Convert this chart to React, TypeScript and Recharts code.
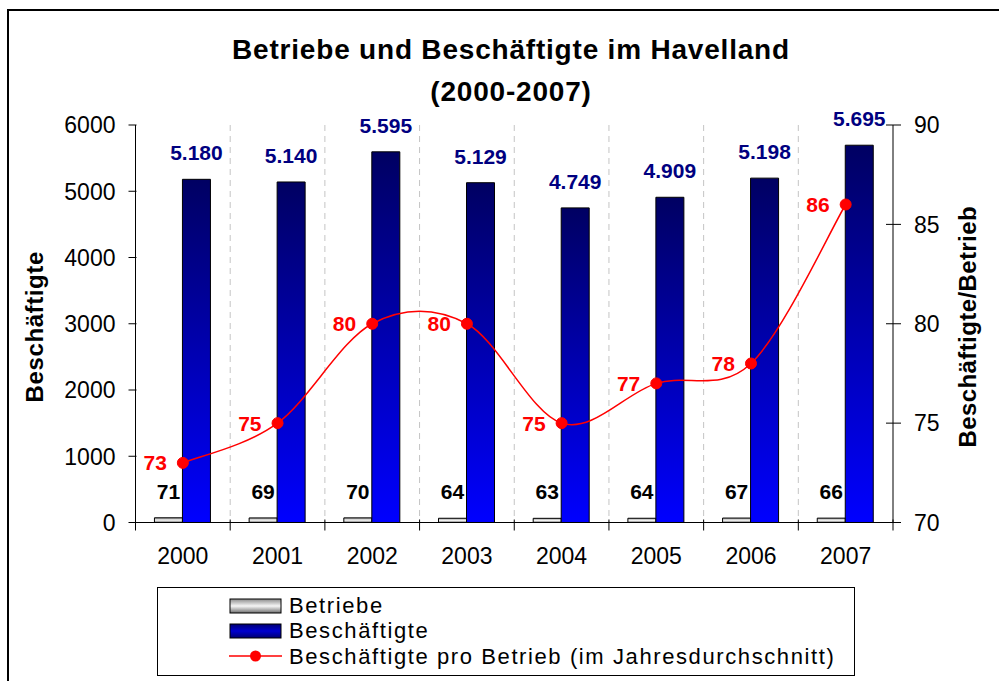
import React from 'react'
import { ComposedChart, Bar, Line, XAxis, YAxis, CartesianGrid, LabelList, Legend, Label } from 'recharts'

const YEARS = ['2000', '2001', '2002', '2003', '2004', '2005', '2006', '2007']
const BETRIEBE = [71, 69, 70, 64, 63, 64, 67, 66]
const BESCHAEFTIGTE = [5180, 5140, 5595, 5129, 4749, 4909, 5198, 5695]
const PRO_BETRIEB = [73, 75, 80, 80, 75, 77, 78, 86]
const LEFT_TICKS = [0, 1000, 2000, 3000, 4000, 5000, 6000]
const RIGHT_TICKS = [70, 75, 80, 85, 90]

const data = YEARS.map((year, i) => ({
  year,
  betriebe: BETRIEBE[i],
  beschaeftigte: BESCHAEFTIGTE[i],
  proBetrieb: PRO_BETRIEB[i],
}))

const FONT = '"Liberation Sans", Arial, sans-serif'

// German thousands separator (5.180)
const formatDe = (v: number) => String(v).replace(/\B(?=(\d{3})+(?!\d))/g, '.')

// Excel-like smoothed line (Catmull-Rom as cubic bezier)
function excelSmooth(context: any) {
  let pts: number[][] = []
  return {
    areaStart() {},
    areaEnd() {},
    lineStart() {
      pts = []
    },
    lineEnd() {
      if (!pts.length) return
      context.moveTo(pts[0][0], pts[0][1])
      for (let i = 0; i < pts.length - 1; i++) {
        const p0 = pts[i - 1] || pts[i]
        const p1 = pts[i]
        const p2 = pts[i + 1]
        const p3 = pts[i + 2] || p2
        context.bezierCurveTo(
          p1[0] + (p2[0] - p0[0]) / 6,
          p1[1] + (p2[1] - p0[1]) / 6,
          p2[0] - (p3[0] - p1[0]) / 6,
          p2[1] - (p3[1] - p1[1]) / 6,
          p2[0],
          p2[1]
        )
      }
    },
    point(x: number, y: number) {
      pts.push([+x, +y])
    },
  }
}

const LeftTick = (props: any) => {
  const { x, y, payload } = props
  const ax = x + 20
  return (
    <g>
      <line x1={ax - 7} x2={ax + 1} y1={y} y2={y} stroke="#000" />
      <text x={x} y={y} dy="0.36em" textAnchor="end" fontSize={23} fill="#000" fontFamily={FONT}>
        {payload.value}
      </text>
    </g>
  )
}

const RightTick = (props: any) => {
  const { x, y, payload } = props
  const ax = x - 21
  return (
    <g>
      <line x1={ax - 7} x2={ax + 8} y1={y} y2={y} stroke="#000" />
      <text x={x} y={y} dy="0.36em" textAnchor="start" fontSize={23} fill="#000" fontFamily={FONT}>
        {payload.value}
      </text>
    </g>
  )
}

const YearTick = (props: any) => {
  const { x, y, payload, index } = props
  const half = payload.offset || 47.3
  return (
    <g>
      <line x1={x - half} x2={x - half} y1={y - 3} y2={y + 8} stroke="#000" />
      {index === YEARS.length - 1 && <line x1={x + half} x2={x + half} y1={y - 3} y2={y + 8} stroke="#000" />}
      <text x={x} y={y + 41} textAnchor="middle" fontSize={23} fill="#000" fontFamily={FONT}>
        {payload.value}
      </text>
    </g>
  )
}

const axisTitle = (text: string, dx: number, ls: number) => (props: any) => {
  const { viewBox } = props
  const cx = viewBox.x + dx
  const cy = viewBox.y + viewBox.height / 2 + 3
  return (
    <text
      x={cx}
      y={cy}
      dy="0.36em"
      transform={`rotate(-90 ${cx} ${cy})`}
      textAnchor="middle"
      fontSize={24}
      fontWeight="bold"
      letterSpacing={ls}
      fontFamily={FONT}
      fill="#000"
    >
      {text}
    </text>
  )
}

const LegendBox = () => {
  const rows = [
    { key: 'b', label: 'Betriebe' },
    { key: 's', label: 'Beschäftigte' },
    { key: 'l', label: 'Beschäftigte pro Betrieb (im Jahresdurchschnitt)' },
  ]
  return (
    <div style={{ paddingTop: 5, paddingLeft: 71, fontFamily: FONT, fontSize: 22, letterSpacing: 1.6 }}>
      {rows.map((r) => (
        <div key={r.key} style={{ display: 'flex', alignItems: 'center', height: 25.4, lineHeight: '25.4px' }}>
          <svg width={54} height={24} style={{ marginRight: 6 }}>
            <defs>
              <linearGradient id="lgGray" x1="0" y1="0" x2="0" y2="1">
                <stop offset="0" stopColor="#8c8c8c" />
                <stop offset="0.5" stopColor="#f6f6f6" />
                <stop offset="1" stopColor="#6e6e6e" />
              </linearGradient>
              <linearGradient id="lgBlue" x1="0" y1="0" x2="0" y2="1">
                <stop offset="0" stopColor="#000070" />
                <stop offset="0.5" stopColor="#0000d0" />
                <stop offset="1" stopColor="#000070" />
              </linearGradient>
            </defs>
            {r.key === 'b' && <rect x={1} y={5} width={51} height={14} fill="url(#lgGray)" stroke="#000" />}
            {r.key === 's' && <rect x={1} y={5} width={51} height={14} fill="url(#lgBlue)" stroke="#000" />}
            {r.key === 'l' && (
              <g>
                <line x1={0} x2={53} y1={12} y2={12} stroke="#ff0000" strokeWidth={1.5} />
                <circle cx={26.5} cy={12} r={5.5} fill="#ff0000" />
              </g>
            )}
          </svg>
          <span>{r.label}</span>
        </div>
      ))}
    </div>
  )
}

export default function App() {
  return (
    <div style={{ position: 'fixed', left: 0, top: 0, width: 999, height: 681, overflow: 'hidden', background: '#fff', fontFamily: FONT }}>
      {/* outer frame */}
      <div style={{ position: 'absolute', left: 7, top: 9, width: 1100, height: 1000, border: '2px solid #000' }} />

      {/* title */}
      <div
        style={{
          position: 'absolute',
          left: 0,
          top: 29,
          width: 1022,
          textAlign: 'center',
          fontSize: 28,
          fontWeight: 'bold',
          letterSpacing: 0.8,
          lineHeight: '42px',
          color: '#000',
        }}
      >
        Betriebe und Beschäftigte im Havelland
        <br />
        (2000-2007)
      </div>

      <div style={{ position: 'absolute', left: 0, top: 0 }}>
        <ComposedChart
          width={999}
          height={681}
          data={data}
          margin={{ top: 125, right: 0, bottom: 98.5, left: 0 }}
          barCategoryGap="20%"
          barGap={0}
        >
          <defs>
            <linearGradient id="gradGray" x1="0" y1="0" x2="0" y2="1">
              <stop offset="0" stopColor="#8c8c8c" />
              <stop offset="0.5" stopColor="#f6f6f6" />
              <stop offset="1" stopColor="#6e6e6e" />
            </linearGradient>
            <linearGradient id="gradBlue" x1="0" y1="0" x2="0" y2="1">
              <stop offset="0" stopColor="#000062" />
              <stop offset="1" stopColor="#0000ff" />
            </linearGradient>
          </defs>

          <CartesianGrid
            horizontal={false}
            stroke="#c4c4c4"
            strokeDasharray="6 5"
            verticalCoordinatesGenerator={({ offset }: any) =>
              YEARS.slice(1).map((_, i) => offset.left + ((i + 1) * offset.width) / YEARS.length)
            }
          />

          <XAxis
            dataKey="year"
            height={60}
            tickSize={0}
            tickMargin={0}
            tickLine={false}
            axisLine={{ stroke: '#000' }}
            tick={(p: any) => <YearTick {...p} />}
            interval={0}
          />
          <YAxis
            yAxisId="left"
            width={135.5}
            domain={[0, 6000]}
            ticks={LEFT_TICKS}
            tickSize={0}
            tickMargin={20}
            tickLine={false}
            axisLine={{ stroke: '#000' }}
            tick={(p: any) => <LeftTick {...p} />}
            interval={0}
          >
            <Label content={axisTitle('Beschäftigte', 34, 0.6)} />
          </YAxis>
          <YAxis
            yAxisId="right"
            orientation="right"
            width={106}
            domain={[70, 90]}
            ticks={RIGHT_TICKS}
            tickSize={0}
            tickMargin={21}
            tickLine={false}
            axisLine={{ stroke: '#000' }}
            tick={(p: any) => <RightTick {...p} />}
            interval={0}
          >
            <Label content={axisTitle('Beschäftigte/Betrieb', 74, 0.4)} />
          </YAxis>

          <Bar yAxisId="left" dataKey="betriebe" name="Betriebe" fill="url(#gradGray)" stroke="#000" strokeWidth={1} isAnimationActive={false}>
            <LabelList dataKey="betriebe" position="top" offset={19} fill="#000" fontSize={21} fontWeight="bold" fontFamily={FONT} />
          </Bar>
          <Bar yAxisId="left" dataKey="beschaeftigte" name="Beschäftigte" fill="url(#gradBlue)" stroke="#000" strokeWidth={1} isAnimationActive={false}>
            <LabelList
              dataKey="beschaeftigte"
              position="top"
              offset={19}
              fill="#000080"
              fontSize={21}
              fontWeight="bold"
              fontFamily={FONT}
              formatter={(v: any) => formatDe(Number(v))}
            />
          </Bar>
          <Line
            yAxisId="right"
            dataKey="proBetrieb"
            name="Beschäftigte pro Betrieb (im Jahresdurchschnitt)"
            type={excelSmooth as any}
            stroke="#ff0000"
            strokeWidth={1.5}
            dot={{ r: 5.5, fill: '#ff0000', stroke: '#ff0000', strokeWidth: 1 }}
            activeDot={false}
            isAnimationActive={false}
          >
            <LabelList dataKey="proBetrieb" position="left" offset={16} fill="#ff0000" fontSize={21} fontWeight="bold" fontFamily={FONT} />
          </Line>

          <Legend
            layout="vertical"
            align="center"
            verticalAlign="middle"
            content={() => <LegendBox />}
            wrapperStyle={{
              left: 157,
              top: 587,
              width: 698,
              height: 89,
              border: '1.5px solid #000',
              boxSizing: 'border-box',
              background: '#fff',
            }}
          />
        </ComposedChart>
      </div>
    </div>
  )
}
